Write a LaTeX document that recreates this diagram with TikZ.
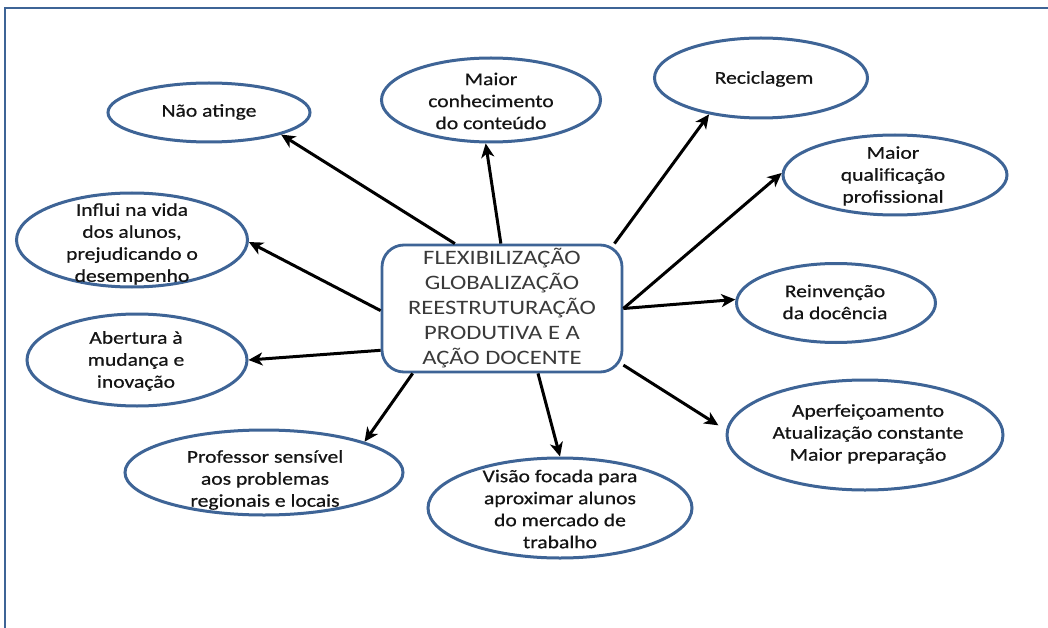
\documentclass[tikz,border=0pt]{standalone}
\usepackage{fontspec}
\setmainfont{Carlito}[FakeStretch=1.2]
\newfontfamily\efont{Carlito}[FakeStretch=1.2,FakeBold=0.6]
\usetikzlibrary{shapes.geometric,arrows.meta}
\definecolor{frameblue}{RGB}{62,100,150}
\definecolor{txtdark}{RGB}{20,20,20}
\definecolor{txtgray}{RGB}{58,58,58}
\tikzset{
 ell/.style={ellipse, draw=frameblue, line width=3pt, fill=white, inner sep=0pt},
 etxt/.style={align=center, text=txtdark, font=\efont\fontsize{18}{22}\selectfont, inner sep=0pt},
 ctr/.style={rectangle, rounded corners=22pt, draw=frameblue, line width=2.8pt, fill=white,
   minimum width=240pt, minimum height=127pt, inner sep=0pt, align=center, text=txtgray,
   font=\fontsize{20.5}{25}\selectfont},
 arr/.style={-{Stealth[length=14pt,width=13pt,inset=4pt]}, line width=3pt, black},
 frameline/.style={draw=frameblue, line width=2.8pt}
}
\begin{document}
\begin{tikzpicture}[x=1pt,y=-1pt]
\useasboundingbox (0,0) rectangle (1048,628);
\fill[white] (0,0) rectangle (1048,628);
\draw[frameline] (1048,8) -- (5,8) -- (5,628);

% ellipses
\node[ell, minimum width=202pt, minimum height=59pt] (n1) at (209,112.5) {};
\node[ell, minimum width=219pt, minimum height=84pt] (n2) at (491,100) {};
\node[ell, minimum width=213pt, minimum height=80pt] (n3) at (761,78) {};
\node[ell, minimum width=224pt, minimum height=80pt] (n4) at (895,175) {};
\node[ell, minimum width=231pt, minimum height=94pt] (n5) at (132,240) {};
\node[ell, minimum width=199pt, minimum height=79pt] (n6) at (836,303) {};
\node[ell, minimum width=220pt, minimum height=92pt] (n7) at (137,360) {};
\node[ell, minimum width=276pt, minimum height=110pt] (n8) at (865,435) {};
\node[ell, minimum width=278pt, minimum height=85pt] (n9) at (264,472.5) {};
\node[ell, minimum width=264pt, minimum height=100pt] (n10) at (560,508) {};

% texts
\node[etxt] (t1) at (209,112) {Não atinge};
\node[etxt] (t2) at (491,101) {Maior\\conhecimento\\do conteúdo};
\node[etxt] (t3) at (764,79) {Reciclagem};
\node[etxt] (t4) at (893,176) {Maior\\qualificação\\profissional};
\node[etxt] (t5) at (132,244) {Influi na vida\\dos alunos,\\prejudicando o\\desempenho};
\node[etxt] (t6) at (835,302) {Reinvenção\\da docência};
\node[etxt] (t7) at (136,361) {Abertura à\\mudança e\\inovação};
\node[etxt] (t8) at (868,434) {Aperfeiçoamento\\Atualização constante\\Maior preparação};
\node[etxt] (t9) at (265,480) {Professor sensível\\aos problemas\\regionais e locais};
\node[etxt] (t10) at (560,509) {Visão focada para\\aproximar alunos\\do mercado de\\trabalho};

% centre
\node[ctr] (c) at (502,308.5) {FLEXIBILIZAÇÃO\\GLOBALIZAÇÃO\\REESTRUTURAÇÃO\\PRODUTIVA E A\\AÇÃO DOCENTE};

% arrows
\draw[arr] (c.126.5) -- (n1.-17.6);
\draw[arr] (c.91.8) -- (n2.-97.6);
\draw[arr] (c.30) -- (n3.-145.1);
\draw[arr] (c.east) -- (n4.179);
\draw[arr] (c.east) -- (n6.178.3);
\draw[arr, shorten >=9pt] (c.-25.2) -- (n8.178);
\draw[arr] (c.-61.1) -- (n10.90);
\draw[arr] (c.-144.5) -- (n9.17.1);
\draw[arr] (c.199.1) -- (n7.-0.5);
\draw[arr] (c.181.7) -- (n5.-1.5);
\end{tikzpicture}
\end{document}
